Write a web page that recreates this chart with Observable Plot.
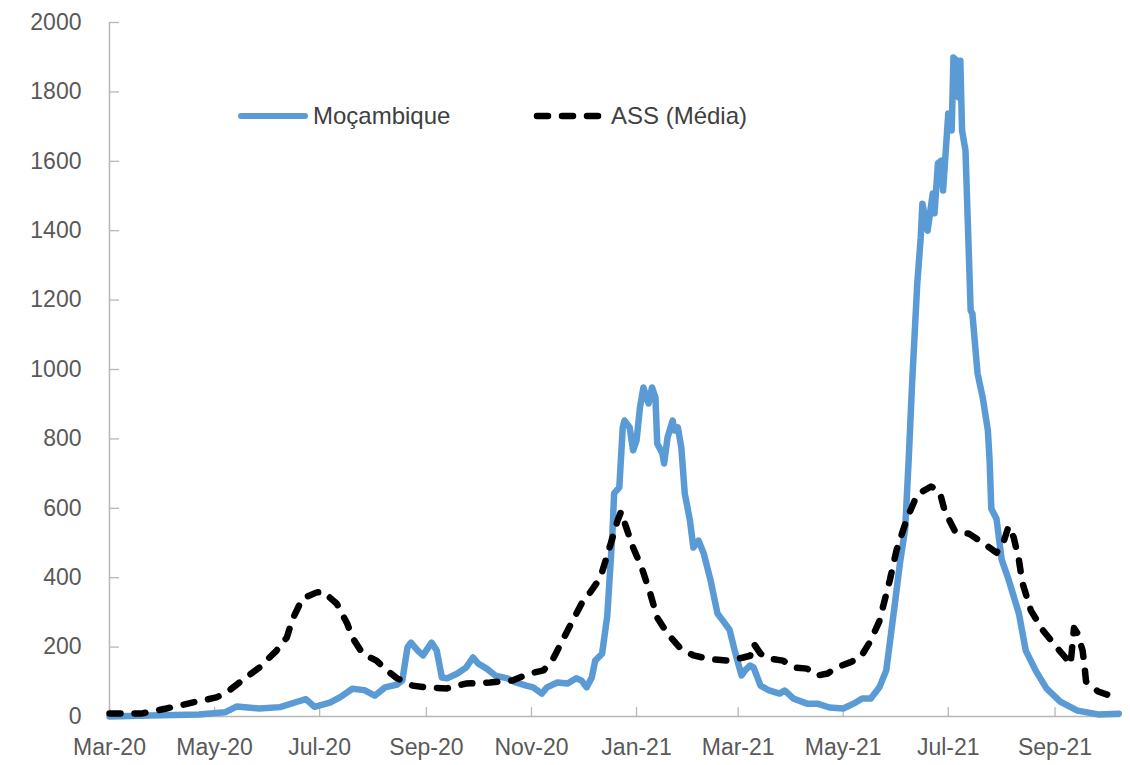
<!DOCTYPE html>
<html><head><meta charset="utf-8">
<script src="https://cdn.jsdelivr.net/npm/d3@7"></script>
<script src="https://cdn.jsdelivr.net/npm/@observablehq/plot@0.6"></script>
<style>
body{margin:0;background:#fff;font-family:"Liberation Sans",Arial,sans-serif;}
#wrap{position:relative;width:1130px;height:765px;overflow:hidden;}
.leg{position:absolute;display:flex;align-items:center;font-size:24px;color:#404040;white-space:nowrap;}
.leg svg{display:block;margin-right:4px;}
</style></head><body>
<div id="wrap"><div id="chart"></div>
<div class="leg" id="leg1" style="left:237px;top:102px;"></div>
<div class="leg" id="leg2" style="left:533px;top:102px;"></div>
</div>
<script>
// Moçambique (blue)
const mozDates = ["2020-03-01","2020-03-24","2020-04-22","2020-05-07","2020-05-14","2020-05-27","2020-06-08","2020-06-19","2020-06-23","2020-06-28","2020-07-07","2020-07-13","2020-07-20","2020-07-27","2020-08-02","2020-08-08","2020-08-15","2020-08-18","2020-08-21","2020-08-23","2020-08-27","2020-08-30","2020-09-04","2020-09-07","2020-09-10","2020-09-13","2020-09-19","2020-09-24","2020-09-28","2020-10-01","2020-10-06","2020-10-11","2020-10-18","2020-10-23","2020-10-29","2020-11-02","2020-11-07","2020-11-10","2020-11-16","2020-11-22","2020-11-27","2020-11-30","2020-12-03","2020-12-06","2020-12-08","2020-12-12","2020-12-15","2020-12-18","2020-12-19","2020-12-22","2020-12-24","2020-12-25","2020-12-28","2020-12-30","2021-01-01","2021-01-03","2021-01-05","2021-01-08","2021-01-10","2021-01-12","2021-01-13","2021-01-16","2021-01-17","2021-01-19","2021-01-22","2021-01-23","2021-01-25","2021-01-27","2021-01-29","2021-02-01","2021-02-03","2021-02-06","2021-02-09","2021-02-13","2021-02-17","2021-02-20","2021-02-24","2021-02-27","2021-03-03","2021-03-05","2021-03-08","2021-03-10","2021-03-14","2021-03-19","2021-03-25","2021-03-28","2021-04-02","2021-04-10","2021-04-16","2021-04-23","2021-05-01","2021-05-07","2021-05-12","2021-05-17","2021-05-22","2021-05-26","2021-05-31","2021-06-03","2021-06-06","2021-06-08","2021-06-10","2021-06-13","2021-06-15","2021-06-16","2021-06-19","2021-06-22","2021-06-23","2021-06-25","2021-06-27","2021-06-28","2021-07-01","2021-07-03","2021-07-04","2021-07-06","2021-07-07","2021-07-08","2021-07-09","2021-07-11","2021-07-14","2021-07-15","2021-07-18","2021-07-21","2021-07-24","2021-07-25","2021-07-26","2021-07-29","2021-08-01","2021-08-05","2021-08-11","2021-08-15","2021-08-21","2021-08-27","2021-09-04","2021-09-14","2021-09-26","2021-10-08"];
const mozValues = [0,3,6,12,29,23,27,44,50,28,40,56,80,76,60,84,92,104,199,213,190,176,213,190,112,110,124,141,170,153,138,118,110,98,89,84,66,84,98,95,110,104,84,112,161,181,290,527,643,660,833,853,833,767,795,891,948,902,948,919,787,758,729,804,853,824,833,775,643,565,487,507,470,392,297,277,250,190,118,133,147,141,89,75,66,75,52,37,37,26,23,37,52,52,84,133,325,444,542,738,960,1248,1380,1478,1400,1507,1450,1594,1602,1516,1738,1689,1899,1890,1784,1890,1689,1631,1170,1161,989,919,824,738,599,570,452,395,297,190,130,81,43,17,6,8];

// ASS (Média) (black dashed)
const assDates = ["2020-03-01","2020-03-20","2020-04-03","2020-04-18","2020-05-02","2020-05-08","2020-05-17","2020-05-27","2020-06-06","2020-06-12","2020-06-15","2020-06-21","2020-06-29","2020-07-03","2020-07-11","2020-07-17","2020-07-20","2020-07-26","2020-08-03","2020-08-09","2020-08-15","2020-08-24","2020-09-01","2020-09-13","2020-09-24","2020-10-08","2020-10-21","2020-10-31","2020-11-08","2020-11-13","2020-11-19","2020-11-25","2020-12-01","2020-12-05","2020-12-11","2020-12-17","2020-12-21","2020-12-23","2020-12-26","2020-12-30","2021-01-04","2021-01-09","2021-01-13","2021-01-19","2021-01-26","2021-02-03","2021-02-13","2021-02-24","2021-03-04","2021-03-08","2021-03-10","2021-03-14","2021-03-19","2021-03-27","2021-04-03","2021-04-10","2021-04-16","2021-04-22","2021-04-27","2021-05-05","2021-05-11","2021-05-17","2021-05-22","2021-05-28","2021-06-01","2021-06-07","2021-06-13","2021-06-21","2021-06-26","2021-06-29","2021-07-05","2021-07-13","2021-07-21","2021-07-29","2021-08-02","2021-08-05","2021-08-08","2021-08-11","2021-08-13","2021-08-18","2021-08-25","2021-09-02","2021-09-07","2021-09-10","2021-09-12","2021-09-14","2021-09-17","2021-09-18","2021-09-19","2021-09-26","2021-10-08"];
const assValues = [9,9,23,40,55,69,104,141,190,228,277,340,357,360,325,268,228,181,161,133,110,89,84,81,95,98,104,124,133,161,219,277,334,357,400,498,565,590,545,487,429,354,285,239,199,176,165,161,170,175,210,181,167,161,141,138,118,124,141,156,170,219,275,392,480,570,640,663,648,591,533,527,501,472,501,548,516,452,386,305,248,199,170,150,255,240,190,150,101,72,52];

const yTicks = [0,200,400,600,800,1000,1200,1400,1600,1800,2000];
const xTickDates = ["2020-03-01","2020-05-01","2020-07-01","2020-09-01","2020-11-01","2021-01-01","2021-03-01","2021-05-01","2021-07-01","2021-09-01"];
const xDomain = ["2020-03-01","2021-10-09"];
const seriesNames = ["Moçambique","ASS (Média)"];

const parse = d3.utcParse("%Y-%m-%d");
const moz = mozDates.map((d,i)=>({date:parse(d), value:mozValues[i]}));
const ass = assDates.map((d,i)=>({date:parse(d), value:assValues[i]}));
const xTicks = xTickDates.map(parse);

const W=1130, H=765, mL=109, mR=10, mT=22, mB=49;
const innerW = W-mL-mR, innerH = H-mT-mB;
const axisColor = "#b7b7b7";
const blue = "#5B9BD5";

const chart = Plot.plot({
  width:W, height:H,
  marginLeft:mL, marginRight:mR, marginTop:mT, marginBottom:mB,
  style:{fontFamily:"'Liberation Sans', Arial, sans-serif", fontSize:"23px", color:"#595959", background:"#fff"},
  x:{type:"utc", domain:xDomain.map(parse)},
  y:{domain:[0,2000]},
  marks:[
    Plot.axisY({ticks:yTicks, tickSize:0, tickPadding:28, tickFormat:d=>String(d), fill:"#595959", label:null}),
    Plot.axisX({ticks:xTicks, tickSize:0, tickPadding:22, tickFormat:d3.utcFormat("%b-%y"), fill:"#595959", label:null}),
    Plot.tickY(yTicks, {y:d=>d, stroke:axisColor, strokeWidth:1.3, insetRight: innerW-10}),
    Plot.tickX(xTicks, {x:d=>d, stroke:axisColor, strokeWidth:1.3, insetTop: innerH-9}),
    Plot.ruleX([parse(xDomain[0])], {stroke:axisColor, strokeWidth:1.5}),
    Plot.ruleY([0], {stroke:axisColor, strokeWidth:1.5}),
    Plot.line(moz, {x:"date", y:"value", stroke:blue, strokeWidth:6.5, strokeLinejoin:"round", strokeLinecap:"round"}),
    Plot.line(ass, {x:"date", y:"value", stroke:"#000", strokeWidth:6.5, strokeDasharray:"11,14", strokeLinecap:"round", strokeLinejoin:"round"})
  ]
});
document.getElementById("chart").appendChild(chart);

// legend
const leg1 = document.getElementById("leg1");
leg1.innerHTML = `<svg width="72" height="14"><line x1="4" y1="7" x2="68" y2="7" stroke="${blue}" stroke-width="6" stroke-linecap="round"/></svg><span>${seriesNames[0]}</span>`;
const leg2 = document.getElementById("leg2");
leg2.innerHTML = `<svg width="74" height="14"><line x1="4" y1="7" x2="71" y2="7" stroke="#000" stroke-width="6.5" stroke-dasharray="11,14" stroke-linecap="round"/></svg><span>${seriesNames[1]}</span>`;
</script>
</body></html>
